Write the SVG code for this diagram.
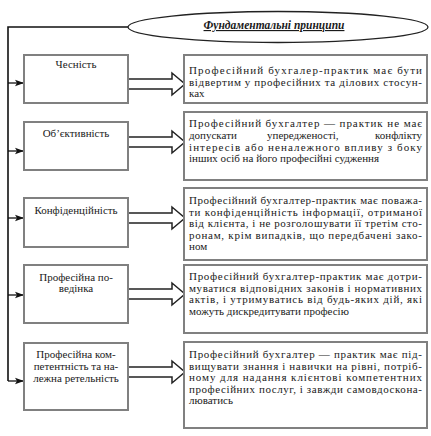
<svg xmlns="http://www.w3.org/2000/svg" width="431" height="436" viewBox="0 0 431 436">
<style>
.bg{fill:#fff}
.box{fill:#fff;stroke:#808080;stroke-width:2}
.t{font-family:"Liberation Serif","Times New Roman",serif;font-size:11px;fill:#1a1a1a}
.c{text-anchor:middle}
.e{text-anchor:end}
.title{font-family:"Liberation Serif","Times New Roman",serif;font-size:11.5px;font-weight:bold;font-style:italic;text-decoration:underline;fill:#1a1a1a;text-anchor:middle}
.ln{fill:none;stroke:#111;stroke-width:1.6}
.br{fill:none;stroke:#111;stroke-width:1.3;marker-end:url(#ah)}
.blk{fill:#fff;stroke:#222;stroke-width:1.5;stroke-linejoin:miter}
</style>
<defs>
<marker id="ah" markerWidth="10" markerHeight="8" refX="9" refY="4" orient="auto" markerUnits="userSpaceOnUse">
<path d="M0,0.8 L9,4 L0,7.2 L2,4 Z" fill="#111"/>
</marker>
</defs>
<rect class="bg" x="0" y="0" width="431" height="436"/>

<g id="connectors">
<path class="ln" d="M128,27 H8 V381"/>
<path class="br" d="M8,83 H24"/>
<path class="br" d="M8,151 H24"/>
<path class="br" d="M8,218 H24"/>
<path class="br" d="M8,295 H24"/>
<path class="br" d="M8,381 H24"/>
<path class="blk" d="M128,79 H172 V73 L185,84 L172,95 V89 H128 Z"/>
<path class="blk" d="M128,137 H172 V131 L185,142 L172,153 V147 H128 Z"/>
<path class="blk" d="M128,213 H172 V207 L185,218 L172,229 V223 H128 Z"/>
<path class="blk" d="M128,289 H172 V283 L185,294 L172,305 V299 H128 Z"/>
<path class="blk" d="M128,367 H172 V361 L185,372 L172,383 V377 H128 Z"/>
</g>

<g id="title">
<ellipse cx="278" cy="27" rx="150" ry="15.5" fill="#fff" stroke="#222" stroke-width="1.3"/>
<text class="title" x="274" y="29">Фундаментальні принципи</text>
</g>

<g id="p1">
<rect class="box" x="24" y="55" width="104" height="48"/>
<text class="t c" x="76" y="68">Чесність</text>
</g>
<g id="d1">
<rect class="box" x="184" y="55" width="243" height="48"/>
<text class="t" x="189" y="74" textLength="233" lengthAdjust="spacing">Професійний бухгалер-практик має бути</text>
<text class="t" x="189" y="86" textLength="233" lengthAdjust="spacing">відвертим у професійних та ділових стосун-</text>
<text class="t" x="189" y="97">ках</text>
</g>

<g id="p2">
<rect class="box" x="24" y="122" width="104" height="48"/>
<text class="t c" x="76" y="137">Об’єктивність</text>
</g>
<g id="d2">
<rect class="box" x="184" y="112" width="243" height="68"/>
<text class="t" x="189" y="127" textLength="233" lengthAdjust="spacing">Професійний бухгалтер — практик не має</text>
<text class="t" x="189" y="139">допускати</text>
<text class="t" x="267" y="139">упередженості,</text>
<text class="t e" x="422" y="139">конфлікту</text>
<text class="t" x="189" y="151" textLength="233" lengthAdjust="spacing">інтересів або неналежного впливу з боку</text>
<text class="t" x="189" y="162">інших осіб на його професійні судження</text>
</g>

<g id="p3">
<rect class="box" x="24" y="198" width="104" height="49"/>
<text class="t c" x="76" y="214">Конфіденційність</text>
</g>
<g id="d3">
<rect class="box" x="184" y="188" width="243" height="72"/>
<text class="t" x="189" y="204" textLength="233" lengthAdjust="spacing">Професійний бухгалтер-практик має поважа-</text>
<text class="t" x="189" y="216" textLength="233" lengthAdjust="spacing">ти конфіденційність інформації, отриманої</text>
<text class="t" x="189" y="227" textLength="233" lengthAdjust="spacing">від клієнта, і не розголошувати її третім сто-</text>
<text class="t" x="189" y="239" textLength="233" lengthAdjust="spacing">ронам, крім випадків, що передбачені зако-</text>
<text class="t" x="189" y="250">ном</text>
</g>

<g id="p4">
<rect class="box" x="24" y="265" width="104" height="58"/>
<text class="t c" x="76" y="281">Професійна по-</text>
<text class="t c" x="76" y="292">ведінка</text>
</g>
<g id="d4">
<rect class="box" x="184" y="265" width="243" height="68"/>
<text class="t" x="189" y="280" textLength="233" lengthAdjust="spacing">Професійний бухгалтер-практик має дотри-</text>
<text class="t" x="189" y="292" textLength="233" lengthAdjust="spacing">муватися відповідних законів і нормативних</text>
<text class="t" x="189" y="303" textLength="233" lengthAdjust="spacing">актів, і утримуватись від будь-яких дій, які</text>
<text class="t" x="189" y="315">можуть дискредитувати професію</text>
</g>

<g id="p5">
<rect class="box" x="24" y="343" width="104" height="67"/>
<text class="t c" x="76" y="358">Професійна ком-</text>
<text class="t c" x="76" y="370">петентність та на-</text>
<text class="t c" x="76" y="382">лежна ретельність</text>
</g>
<g id="d5">
<rect class="box" x="184" y="342" width="243" height="86"/>
<text class="t" x="189" y="358" textLength="233" lengthAdjust="spacing">Професійний бухгалтер — практик має під-</text>
<text class="t" x="189" y="370" textLength="233" lengthAdjust="spacing">вищувати знання і навички на рівні, потріб-</text>
<text class="t" x="189" y="381" textLength="233" lengthAdjust="spacing">ному для надання клієнтові компетентних</text>
<text class="t" x="189" y="393" textLength="233" lengthAdjust="spacing">професійних послуг, і завжди самовдоскона-</text>
<text class="t" x="189" y="404">люватись</text>
</g>
</svg>
